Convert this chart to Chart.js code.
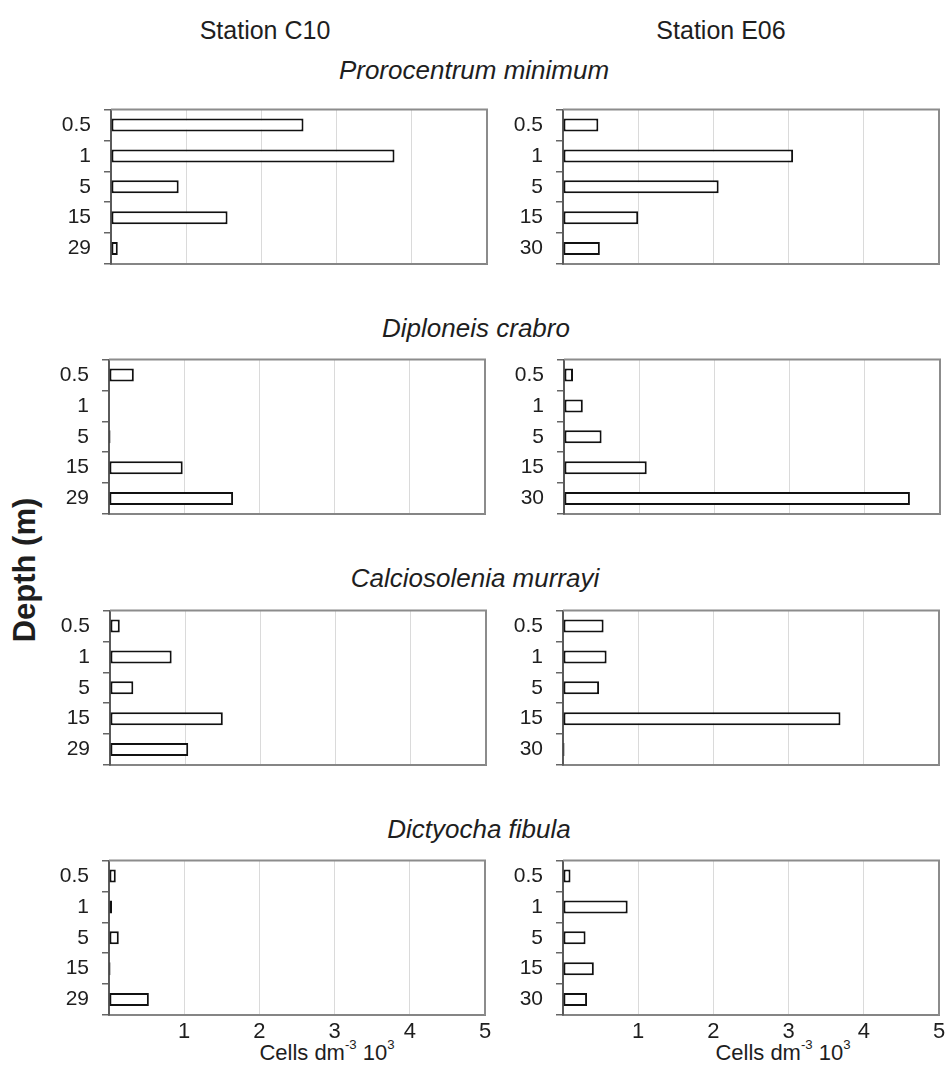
<!DOCTYPE html>
<html>
<head>
<meta charset="utf-8">
<title>Depth profiles of phytoplankton abundance</title>
<script src="https://cdn.jsdelivr.net/npm/chart.js@4/dist/chart.umd.min.js"></script>
<style>
  html, body { margin: 0; padding: 0; background: #fff; }
  body {
    width: 946px; height: 1065px; position: relative; overflow: hidden;
    font-family: 'Liberation Sans', Arial, sans-serif; color: #1e1e1e;
  }
  .lbl { position: absolute; white-space: nowrap; transform: translate(-50%, -50%); line-height: 1; }
  .station { font-size: 25px; }
  .species { font-size: 26px; font-style: italic; }
  .unit { font-size: 22px; }
  .unit sup { font-size: 0.6em; position: relative; top: -0.15em; }
  .depth { font-size: 31px; font-weight: bold; transform: translate(-50%, -50%) rotate(-90deg); }
  .panel { position: absolute; }
</style>
</head>
<body>

<div class="lbl station" style="left:265px; top:30px;">Station C10</div>
<div class="lbl station" style="left:721px; top:30px;">Station E06</div>

<div class="lbl species" style="left:474px; top:70px;">Prorocentrum minimum</div>
<div class="lbl species" style="left:476px; top:328px;">Diploneis crabro</div>
<div class="lbl species" style="left:475px; top:578px;">Calciosolenia murrayi</div>
<div class="lbl species" style="left:479px; top:829px;">Dictyocha fibula</div>

<div class="lbl depth" style="left:24px; top:570px;">Depth (m)</div>

<div class="lbl unit" style="left:327px; top:1052px;">Cells dm<sup>-3</sup> 10<sup>3</sup></div>
<div class="lbl unit" style="left:783px; top:1052px;">Cells dm<sup>-3</sup> 10<sup>3</sup></div>

<script>
// Sampling depths (m) at each station
const depthsC10 = ['0.5', '1', '5', '15', '29'];
const depthsE06 = ['0.5', '1', '5', '15', '30'];

// Abundance, cells dm-3 x 10^3, ordered as the depth lists above
const prorocentrumC10 = [2.56, 3.77, 0.90, 1.55, 0.09];
const prorocentrumE06 = [0.47, 3.06, 2.07, 1.00, 0.49];

const diploneisC10 = [0.33, 0, 0.02, 0.98, 1.65];
const diploneisE06 = [0.12, 0.25, 0.50, 1.10, 4.60];

const calciosoleniaC10 = [0.13, 0.82, 0.31, 1.50, 1.04];
const calciosoleniaE06 = [0.54, 0.58, 0.48, 3.69, 0.02];

const dictyochaC10 = [0.09, 0.04, 0.13, 0.02, 0.53];
const dictyochaE06 = [0.10, 0.86, 0.30, 0.41, 0.32];

// Abundance axis range and labelled ticks
const xMin = 0;
const xMax = 5;
const xTickLabels = ['1', '2', '3', '4', '5'];

// One row per species: [C10 values, E06 values]
const rows = [
  [prorocentrumC10, prorocentrumE06],
  [diploneisC10, diploneisE06],
  [calciosoleniaC10, calciosoleniaE06],
  [dictyochaC10, dictyochaE06]
];
const stationDepths = [depthsC10, depthsE06];

// Page geometry of the plot areas
const plotTops = [108, 358, 609, 859];
const plotLefts = [[111, 563], [109, 564], [110, 563], [109, 563]];
const plotW = 376;
const plotH = 156;
const yAxisW = 110;
const xAxisH = 34;
const padTop = 24;
const padRight = 20;

// Grey frame along the top and right of each plot area
const framePlugin = {
  id: 'frame',
  afterDatasetsDraw(chart) {
    const a = chart.chartArea;
    const ctx = chart.ctx;
    ctx.save();
    ctx.strokeStyle = '#8c8c8c';
    ctx.lineWidth = 2;
    ctx.beginPath();
    ctx.moveTo(a.left, a.top);
    ctx.lineTo(a.right, a.top);
    ctx.lineTo(a.right, a.bottom);
    ctx.stroke();
    ctx.restore();
  }
};

rows.forEach((pair, r) => {
  pair.forEach((values, c) => {
    const showX = r === rows.length - 1;
    const holder = document.createElement('div');
    holder.className = 'panel';
    const left = plotLefts[r][c] - yAxisW;
    const width = yAxisW + plotW + padRight;
    const height = padTop + plotH + xAxisH;
    holder.style.left = left + 'px';
    holder.style.top = (plotTops[r] - padTop) + 'px';
    holder.style.width = width + 'px';
    holder.style.height = height + 'px';
    const canvas = document.createElement('canvas');
    canvas.width = width;
    canvas.height = height;
    canvas.style.width = width + 'px';
    canvas.style.height = height + 'px';
    holder.appendChild(canvas);
    document.body.appendChild(holder);

    new Chart(canvas, {
      type: 'bar',
      data: {
        labels: stationDepths[c],
        datasets: [{
          data: values,
          backgroundColor: '#ffffff',
          borderColor: '#111111',
          borderWidth: 2,
          borderSkipped: false,
          barPercentage: 0.42,
          categoryPercentage: 1
        }]
      },
      options: {
        indexAxis: 'y',
        responsive: false,
        animation: false,
        events: [],
        layout: { padding: { top: padTop, right: padRight, left: 0, bottom: 0 } },
        plugins: { legend: { display: false }, tooltip: { enabled: false } },
        scales: {
          x: {
            min: xMin,
            max: xMax,
            ticks: {
              stepSize: 1,
              display: showX,
              padding: 4,
              color: '#1e1e1e',
              font: { family: "'Liberation Sans', Arial, sans-serif", size: 22 },
              callback: (v) => xTickLabels.includes(String(v)) ? String(v) : ''
            },
            grid: { color: '#dadada', lineWidth: 1, drawTicks: false },
            border: { color: '#858585', width: 2 },
            afterFit: (s) => { s.height = xAxisH; }
          },
          y: {
            ticks: {
              padding: 13,
              color: '#1e1e1e',
              font: { family: "'Liberation Sans', Arial, sans-serif", size: 21 }
            },
            grid: {
              offset: true,
              drawOnChartArea: false,
              drawTicks: true,
              tickLength: 7,
              color: '#666',
              lineWidth: 1.5
            },
            border: { color: '#5a5a5a', width: 2 },
            afterFit: (s) => { s.width = yAxisW; }
          }
        }
      },
      plugins: [framePlugin]
    });
  });
});
</script>
</body>
</html>
